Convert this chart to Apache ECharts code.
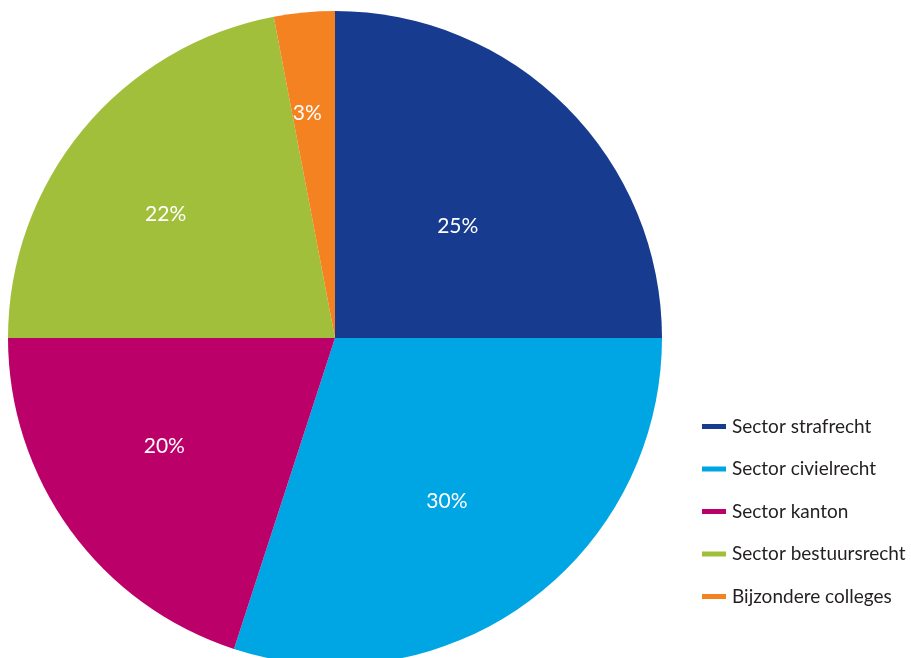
<!DOCTYPE html>
<html>
<head>
<meta charset="utf-8">
<script src="https://cdn.jsdelivr.net/npm/echarts@6/dist/echarts.min.js"></script>
<style>html,body{margin:0;padding:0;background:#fff;}#c{width:911px;height:658px;}</style>
</head>
<body>
<div id="c"></div>
<script>
const categories = ['Sector strafrecht', 'Sector civielrecht', 'Sector kanton', 'Sector bestuursrecht', 'Bijzondere colleges'];
const values = [25, 30, 20, 22, 3];
const colors = ['#173B8E', '#00A5E3', '#BB0069', '#A1BF3B', '#F58220'];
const labelOffsets = [[5, 6], [14, 29], [-36, 10], [-41, -18], [-12, -59]];

const chart = echarts.init(document.getElementById('c'), null, {renderer: 'canvas'});
chart.setOption({
  animation: false,
  legend: {
    orient: 'vertical',
    left: 697,
    top: 412,
    itemWidth: 24,
    itemHeight: 5,
    itemGap: 23.5,
    icon: 'rect',
    textStyle: {fontFamily: 'Lato', fontSize: 19, color: '#231F20', padding: [0, 0, 0, 1]},
    data: categories
  },
  series: [{
    type: 'pie',
    center: [335, 338],
    radius: [0, 327],
    startAngle: 90,
    clockwise: true,
    avoidLabelOverlap: false,
    label: {
      show: true,
      position: 'inside',
      formatter: '{c}%',
      color: '#fff',
      fontFamily: 'Lato',
      fontSize: 21
    },
    labelLine: {show: false},
    emphasis: {disabled: true},
    data: categories.map((name, i) => ({
      name: name,
      value: values[i],
      itemStyle: {color: colors[i]},
      label: {offset: labelOffsets[i]}
    }))
  }]
});
</script>
</body>
</html>
